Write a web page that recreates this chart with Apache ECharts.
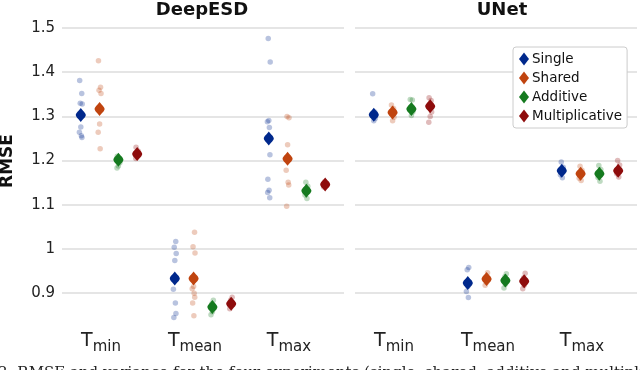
<!DOCTYPE html>
<html>
<head>
<meta charset="utf-8">
<script src="https://cdn.jsdelivr.net/npm/echarts@6/dist/echarts.min.js"></script>
<style>
    html, body { margin: 0; padding: 0; background: #fff; }
    #chart { width: 640px; height: 370px; }
</style>
</head>
<body>
<div id="chart"></div>
<script>
// variables (x labels are "T" + subscript)
var categories = ['min', 'mean', 'max'];
var experiments = ['Single', 'Shared', 'Additive', 'Multiplicative'];
var models = ['DeepESD', 'UNet'];
var yTicks = [0.9, 1, 1.1, 1.2, 1.3, 1.4, 1.5];

// DeepESD - mean RMSE [Tmin, Tmean, Tmax]
var deepSingleMean = [1.303, 0.933, 1.250];
var deepSharedMean = [1.317, 0.933, 1.204];
var deepAdditiveMean = [1.202, 0.869, 1.132];
var deepMultiMean = [1.215, 0.876, 1.146];

// DeepESD - single runs
var deepSingleRuns = [
    [1.381, 1.352, 1.330, 1.328, 1.276, 1.264, 1.256, 1.252],
    [1.017, 1.004, 0.990, 0.974, 0.909, 0.878, 0.854, 0.845],
    [1.476, 1.423, 1.291, 1.288, 1.275, 1.213, 1.158, 1.133, 1.128, 1.116]
];
var deepSharedRuns = [
    [1.426, 1.366, 1.359, 1.352, 1.283, 1.264, 1.227],
    [1.038, 1.005, 0.991, 0.915, 0.910, 0.900, 0.891, 0.878, 0.849],
    [1.300, 1.297, 1.236, 1.178, 1.151, 1.145, 1.097]
];
var deepAdditiveRuns = [
    [1.210, 1.205, 1.198, 1.195, 1.188, 1.183],
    [0.884, 0.876, 0.866, 0.858, 0.851],
    [1.151, 1.142, 1.130, 1.122, 1.114]
];
var deepMultiRuns = [
    [1.230, 1.222, 1.218, 1.212, 1.208, 1.205],
    [0.891, 0.884, 0.877, 0.870, 0.865],
    [1.152, 1.148, 1.143, 1.140]
];

// UNet - mean RMSE
var unetSingleMean = [1.304, 0.923, 1.177];
var unetSharedMean = [1.309, 0.932, 1.170];
var unetAdditiveMean = [1.317, 0.929, 1.170];
var unetMultiMean = [1.323, 0.927, 1.177];

// UNet - single runs
var unetSingleRuns = [
    [1.351, 1.310, 1.300, 1.295, 1.290],
    [0.958, 0.953, 0.925, 0.915, 0.904, 0.890],
    [1.197, 1.185, 1.175, 1.168, 1.161]
];
var unetSharedRuns = [
    [1.326, 1.318, 1.305, 1.298, 1.290],
    [0.946, 0.938, 0.930, 0.924, 0.918],
    [1.187, 1.178, 1.168, 1.160, 1.155]
];
var unetAdditiveRuns = [
    [1.338, 1.337, 1.322, 1.310, 1.302],
    [0.944, 0.937, 0.928, 0.920, 0.912],
    [1.189, 1.180, 1.170, 1.162, 1.153]
];
var unetMultiRuns = [
    [1.342, 1.336, 1.328, 1.310, 1.300, 1.287],
    [0.945, 0.935, 0.925, 0.918, 0.910],
    [1.200, 1.190, 1.180, 1.170, 1.163]
];

var means = [
    [deepSingleMean, deepSharedMean, deepAdditiveMean, deepMultiMean],
    [unetSingleMean, unetSharedMean, unetAdditiveMean, unetMultiMean]
];
var runs = [
    [deepSingleRuns, deepSharedRuns, deepAdditiveRuns, deepMultiRuns],
    [unetSingleRuns, unetSharedRuns, unetAdditiveRuns, unetMultiRuns]
];

var colors = ['#00288c', '#c0440f', '#157a1f', '#8e0c0c'];
var dotColors = ['rgba(0,40,140,0.28)', 'rgba(192,68,15,0.28)', 'rgba(21,122,31,0.28)', 'rgba(142,12,12,0.28)'];
// slot of each experiment inside a category, and a small fixed spread for the runs
var slot = [-0.3, -0.1, 0.1, 0.3];
var spread = [-0.012, 0.01, -0.006, 0.015, 0, -0.015, 0.006, 0.012, -0.01, 0.003];
// rounded diamond like the matplotlib marker
var meanSymbol = 'path://M5,0 C7,2.6 10,4.6 10,6.5 C10,8.4 7,10.4 5,13 C3,10.4 0,8.4 0,6.5 C0,4.6 3,2.6 5,0 Z';

var font = 'DejaVu Sans';
var chart = echarts.init(document.getElementById('chart'));

var series = [];
for (var p = 0; p < 2; p++) {
    for (var e = 0; e < 4; e++) {
        var dots = [], mk = [];
        for (var c = 0; c < 3; c++) {
            runs[p][e][c].forEach(function (v, i) {
                dots.push([c + slot[e] + spread[(i + c) % spread.length], v]);
            });
            mk.push([c + slot[e], means[p][e][c]]);
        }
        series.push({
            name: experiments[e] + ' runs',
            type: 'scatter',
            xAxisIndex: p * 2,
            yAxisIndex: p,
            symbolSize: 5.5,
            silent: true,
            itemStyle: { color: dotColors[e], opacity: 1 },
            data: dots,
            z: 2
        });
        series.push({
            name: experiments[e],
            type: 'scatter',
            xAxisIndex: p * 2,
            yAxisIndex: p,
            symbol: meanSymbol,
            symbolSize: [10, 14],
            itemStyle: { color: colors[e], opacity: 1 },
            data: mk,
            z: 3
        });
    }
}

function xAxes(p) {
    return [{
        gridIndex: p,
        type: 'value',
        min: -0.5,
        max: 2.5,
        show: false
    }, {
        gridIndex: p,
        type: 'category',
        data: categories,
        position: 'bottom',
        axisLine: { show: false },
        axisTick: { show: false },
        splitLine: { show: false },
        axisLabel: {
            margin: -6,
            padding: [0, 16, 0, 0],
            formatter: function (v) { return '{t|T}{s|' + v + '}'; },
            rich: {
                t: { fontFamily: font, fontSize: 19, color: '#222', lineHeight: 20, verticalAlign: 'top' },
                s: { fontFamily: font, fontSize: 15, color: '#222', lineHeight: 15, padding: [8, 0, 0, 0], verticalAlign: 'top' }
            }
        }
    }];
}

function yAxis(p) {
    return {
        gridIndex: p,
        type: 'value',
        min: 0.8,
        max: 1.5,
        interval: 0.1,
        axisLine: { show: false },
        axisTick: { show: false },
        axisLabel: {
            show: p === 0,
            showMinLabel: false,
            fontFamily: font,
            fontSize: 15,
            color: '#222',
            margin: 7,
            formatter: function (v) {
                var r = Math.round(v * 10) / 10;
                return yTicks.indexOf(r) >= 0 ? String(r) : '';
            }
        },
        splitLine: {
            show: true,
            showMinLine: false,
            lineStyle: { color: '#dcdcdc', width: 1.5 }
        }
    };
}

chart.setOption({
    animation: false,
    backgroundColor: '#fff',
    title: [{
        text: models[0], left: 202, top: 1, textAlign: 'center', padding: 0,
        textStyle: { fontFamily: font, fontSize: 18, fontWeight: 'bold', color: '#111' }
    }, {
        text: models[1], left: 502, top: 1, textAlign: 'center', padding: 0,
        textStyle: { fontFamily: font, fontSize: 18, fontWeight: 'bold', color: '#111' }
    }],
    legend: {
        data: experiments,
        orient: 'vertical',
        left: 513,
        top: 47,
        icon: 'diamond',
        itemWidth: 10,
        itemHeight: 13,
        itemGap: 5,
        padding: [5, 5, 5, 6],
        borderColor: '#cccccc',
        borderWidth: 1,
        borderRadius: 3,
        backgroundColor: '#fff',
        itemStyle: { opacity: 1 },
        textStyle: { fontFamily: font, fontSize: 13.5, color: '#111', padding: [0, 0, 0, -2] }
    },
    grid: [
        { left: 62, width: 282, top: 28, height: 309.4 },
        { left: 355, width: 282, top: 28, height: 309.4 }
    ],
    xAxis: xAxes(0).concat(xAxes(1)),
    yAxis: [yAxis(0), yAxis(1)],
    graphic: [{
        type: 'text',
        x: 8,
        y: 161,
        rotation: Math.PI / 2,
        style: {
            text: 'RMSE',
            font: 'bold 17px "DejaVu Sans"',
            fill: '#111',
            align: 'center',
            verticalAlign: 'middle'
        }
    }, {
        type: 'text',
        x: -2,
        y: 366,
        style: {
            text: '2: RMSE and variance for the four experiments (single, shared, additive and multiplicative)',
            font: '15px "DejaVu Serif"',
            fill: '#222',
            align: 'left',
            verticalAlign: 'top'
        }
    }],
    series: series
});
</script>
</body>
</html>
